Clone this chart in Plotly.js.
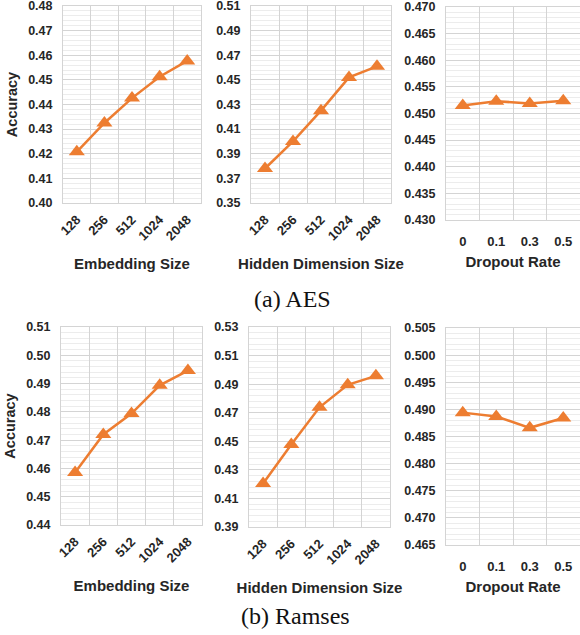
<!DOCTYPE html>
<html>
<head>
<meta charset="utf-8">
<script src="https://cdn.plot.ly/plotly-3.0.1.min.js"></script>
<style>html,body{margin:0;padding:0;background:#fff;}#chart{width:580px;height:635px;}</style>
</head>
<body>
<div id="chart"></div>
<script>
// ---- data ----
const sizeCats = ['128', '256', '512', '1024', '2048'];
const dropCats = ['0', '0.1', '0.3', '0.5'];
const aesEmbedding = [0.4208, 0.4325, 0.4426, 0.4513, 0.4577];
const aesHidden = [0.378, 0.400, 0.425, 0.452, 0.461];
const aesDropout = [0.4515, 0.4523, 0.4519, 0.4524];
const ramsesEmbedding = [0.4586, 0.4720, 0.4794, 0.4894, 0.4946];
const ramsesHidden = [0.4204, 0.4478, 0.4738, 0.4895, 0.4958];
const ramsesDropout = [0.4894, 0.4887, 0.4866, 0.4884];
const xTitles = ['Embedding Size', 'Hidden Dimension Size', 'Dropout Rate'];
const yTitle = 'Accuracy';
const captions = ['(a) AES', '(b) Ramses'];

const ORANGE = '#ED7D31';
const FONT = 'Liberation Sans, Arial, sans-serif';
const TXT = '#262626';
const GRID = '#d4d4d4';
const MINOR = '#ececec';

const panels = [
  {x: sizeCats, y: aesEmbedding, range: [0.40, 0.48], dtick: 0.01, minor: 0.002, fmt: '.2f', xt: 0, rot: true, ytitle: true},
  {x: sizeCats, y: aesHidden, range: [0.35, 0.51], dtick: 0.02, minor: 0.004, fmt: '.2f', xt: 1, rot: true},
  {x: dropCats, y: aesDropout, range: [0.43, 0.47], dtick: 0.005, minor: 0.001, fmt: '.3f', xt: 2, rot: false},
  {x: sizeCats, y: ramsesEmbedding, range: [0.44, 0.51], dtick: 0.01, minor: 0.002, fmt: '.2f', xt: 0, rot: true, ytitle: true},
  {x: sizeCats, y: ramsesHidden, range: [0.39, 0.53], dtick: 0.02, minor: 0.004, fmt: '.2f', xt: 1, rot: true},
  {x: dropCats, y: ramsesDropout, range: [0.465, 0.505], dtick: 0.005, minor: 0.001, fmt: '.3f', xt: 2, rot: false}
];

// pixel boxes [left, right, top, bottom]
const boxes = [
  [63, 201, 6, 203],
  [251, 391, 6, 203],
  [446, 580, 7, 220],
  [61, 202, 327, 525],
  [249, 390, 327, 527],
  [446, 581, 328, 545]
];
const W = 580, H = 635;
const EPS = 1e-7;

const data = [];
const layout = {
  width: W, height: H,
  margin: {l: 0, r: 0, t: 0, b: 0},
  paper_bgcolor: '#fff', plot_bgcolor: '#fff',
  showlegend: false,
  font: {family: FONT, color: TXT},
  annotations: []
};

panels.forEach((p, i) => {
  const n = i + 1;
  const sfx = n === 1 ? '' : String(n);
  const b = boxes[i];
  data.push({
    type: 'scatter', mode: 'lines+markers',
    x: p.x, y: p.y,
    xaxis: 'x' + sfx, yaxis: 'y' + sfx,
    line: {color: ORANGE, width: 2.5},
    marker: {symbol: 'triangle-up', size: 14, color: ORANGE},
    cliponaxis: false
  });
  layout['xaxis' + sfx] = {
    domain: [b[0] / W, b[1] / W],
    anchor: 'y' + sfx,
    type: 'category',
    range: [-0.5, p.x.length - 0.5],
    tickson: 'boundaries',
    showgrid: true, gridcolor: GRID, gridwidth: 1,
    showline: true, mirror: true, linecolor: GRID, linewidth: 1,
    ticks: '',
    tickangle: p.rot ? -45 : 0,
    ticklabelstandoff: p.rot ? 3 : 9,
    tickfont: {family: FONT, size: 13, color: TXT, weight: 'bold'},
    title: {text: xTitles[p.xt], font: {family: FONT, size: 15, color: TXT, weight: 'bold'}, standoff: p.rot ? 16 : 8},
    fixedrange: true, zeroline: false
  };
  layout['yaxis' + sfx] = {
    domain: [1 - b[3] / H, 1 - b[2] / H],
    anchor: 'x' + sfx,
    range: [p.range[0] - EPS, p.range[1] + EPS],
    dtick: p.dtick, tick0: p.range[0],
    tickformat: p.fmt,
    ticklabeloverflow: 'allow',
    showgrid: true, gridcolor: GRID, gridwidth: 1,
    minor: {dtick: p.minor, tick0: p.range[0], showgrid: true, gridcolor: MINOR, gridwidth: 1},
    showline: true, mirror: true, linecolor: GRID, linewidth: 1,
    ticks: '',
    ticklabelstandoff: 7,
    tickfont: {family: FONT, size: 12.5, color: TXT, weight: 'bold'},
    zeroline: false, fixedrange: true
  };
  if (p.ytitle) {
    layout['yaxis' + sfx].title = {text: yTitle, font: {family: FONT, size: 14.5, color: TXT, weight: 'bold'}, standoff: 7};
  }
});

layout.annotations.push(
  {text: captions[0], x: 292 / W, y: 1 - 299 / H, xref: 'paper', yref: 'paper', showarrow: false,
   xanchor: 'center', yanchor: 'middle', font: {family: 'Liberation Serif, Times New Roman, serif', size: 24, color: '#111'}},
  {text: captions[1], x: 295 / W, y: 1 - 616 / H, xref: 'paper', yref: 'paper', showarrow: false,
   xanchor: 'center', yanchor: 'middle', font: {family: 'Liberation Serif, Times New Roman, serif', size: 24, color: '#111'}}
);

Plotly.newPlot('chart', data, layout, {staticPlot: true});
</script>
</body>
</html>
